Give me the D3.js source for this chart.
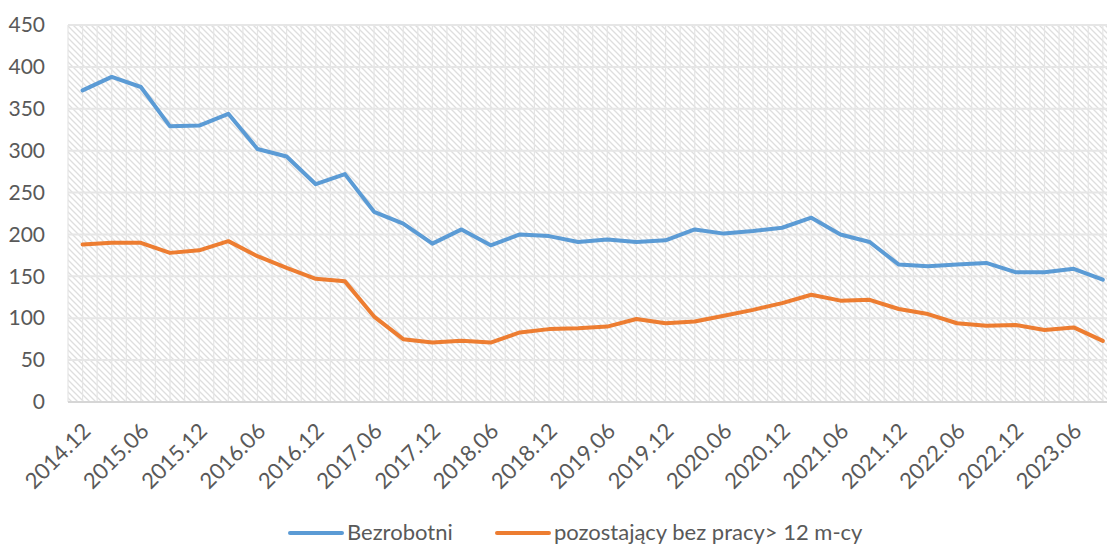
<!DOCTYPE html>
<html>
<head>
<meta charset="utf-8">
<script src="https://cdn.jsdelivr.net/npm/d3@7"></script>
<style>
  body { margin: 0; background: #fff; }
  text { font-family: Lato, "Open Sans", sans-serif; fill: #595959; }
</style>
</head>
<body>
<div id="canvas"></div>
<script>
// quarterly periods 2014.12 - 2023.09
let categories = []
for (let yr = 2014; yr <= 2023; yr++) {
    for (let m of ["03", "06", "09", "12"]) {
        let c = yr + "." + m
        if (c >= "2014.12" && c <= "2023.09") categories.push(c)
    }
}

let seriesNames = ["Bezrobotni", "pozostający bez pracy> 12 m-cy"]

let bezrobotni = [372, 388, 376, 329, 330, 344, 302, 293, 260, 272,
                  227, 213, 189, 206, 187, 200, 198, 191, 194, 191,
                  193, 206, 201, 204, 208, 220, 200, 191, 164, 162,
                  164, 166, 155, 155, 159, 146]

let powyzej12 = [188, 190, 190, 178, 181, 192, 174, 160, 147, 144,
                 102, 75, 71, 73, 71, 83, 87, 88, 90, 99,
                 94, 96, 103, 110, 118, 128, 121, 122, 111, 105,
                 94, 91, 92, 86, 89, 73]

let yTicks = [0, 50, 100, 150, 200, 250, 300, 350, 400, 450]

let colors = ["#5b9bd5", "#ed7d31"]

// setup canvas
let width = 1107
let height = 546
let plotLeft = 68, plotTop = 25, plotBottom = 402
let bandW = 29.15

let svg = d3.select("#canvas").append("svg")
    .attr("width", width)
    .attr("height", height)

let x = d3.scaleBand()
    .domain(categories)
    .range([plotLeft, plotLeft + categories.length * bandW])
    .padding(0)

let y = d3.scaleLinear()
    .domain([0, 450])
    .range([plotBottom, plotTop])

let cx = c => x(c) + x.bandwidth() / 2

// hatch background
let defs = svg.append("defs")
let pat = defs.append("pattern")
    .attr("id", "hatch")
    .attr("patternUnits", "userSpaceOnUse")
    .attr("width", 6)
    .attr("height", 6)
pat.append("rect").attr("width", 6).attr("height", 6).attr("fill", "#ffffff")
pat.append("path")
    .attr("d", "M0,0 L6,6 M-3,3 L3,9 M3,-3 L9,3")
    .attr("stroke", "#dedede")
    .attr("stroke-width", 1.3)

svg.append("rect")
    .attr("x", plotLeft)
    .attr("y", plotTop)
    .attr("width", categories.length * bandW)
    .attr("height", plotBottom - plotTop)
    .attr("fill", "url(#hatch)")

// vertical grid: band edges and centres
let vlines = []
categories.forEach(c => { vlines.push(x(c)); vlines.push(cx(c)) })
svg.append("g")
    .selectAll("line")
    .data(vlines)
    .enter().append("line")
        .attr("x1", d => d).attr("x2", d => d)
        .attr("y1", plotTop).attr("y2", plotBottom)
        .attr("stroke", "#e4e4e4")
        .attr("stroke-width", 1.2)

// horizontal grid
svg.append("g")
    .selectAll("line")
    .data(yTicks)
    .enter().append("line")
        .attr("x1", plotLeft).attr("x2", width)
        .attr("y1", d => y(d)).attr("y2", d => y(d))
        .attr("stroke", d => d === 0 ? "#d6d6d6" : "#e6e6e6")
        .attr("stroke-width", 2)

// y axis labels
let yAxis = svg.append("g")
    .attr("transform", "translate(" + (plotLeft - 23) + ",0)")
    .call(d3.axisLeft(y).tickValues(yTicks).tickSize(0).tickPadding(0))
yAxis.select(".domain").remove()
yAxis.selectAll("text")
    .attr("font-size", 21)
    .attr("font-family", "Lato, sans-serif")
    .attr("fill", "#595959")

// x axis labels, every second period
let xAxis = svg.append("g")
    .attr("transform", "translate(0," + plotBottom + ")")
    .call(d3.axisBottom(x).tickValues(categories.filter((c, i) => i % 2 === 0)).tickSize(0).tickPadding(0))
xAxis.select(".domain").remove()
xAxis.selectAll("text")
    .attr("font-size", 22)
    .attr("font-family", "Lato, sans-serif")
    .attr("fill", "#595959")
    .attr("text-anchor", "end")
    .attr("dy", "0.35em")
    .attr("transform", "translate(4,25) rotate(-45)")

// lines
let line = d3.line()
    .x((d, i) => cx(categories[i]))
    .y(d => y(d))

let series = [bezrobotni, powyzej12]
svg.append("g")
    .selectAll("path")
    .data(series)
    .enter().append("path")
        .attr("d", d => line(d))
        .attr("fill", "none")
        .attr("stroke", (d, i) => colors[i])
        .attr("stroke-width", 4)
        .attr("stroke-linejoin", "round")
        .attr("stroke-linecap", "round")

// legend
let legendX = [290, 497]
let legend = svg.append("g")
    .selectAll("g")
    .data(seriesNames)
    .enter().append("g")
    .attr("transform", (d, i) => "translate(" + legendX[i] + ",533)")

legend.append("line")
    .attr("x1", 0).attr("x2", 52)
    .attr("stroke", (d, i) => colors[i])
    .attr("stroke-width", 4)
    .attr("stroke-linecap", "round")

legend.append("text")
    .attr("x", 57)
    .attr("y", 7)
    .attr("font-size", 22)
    .text(d => d)
</script>
</body>
</html>
